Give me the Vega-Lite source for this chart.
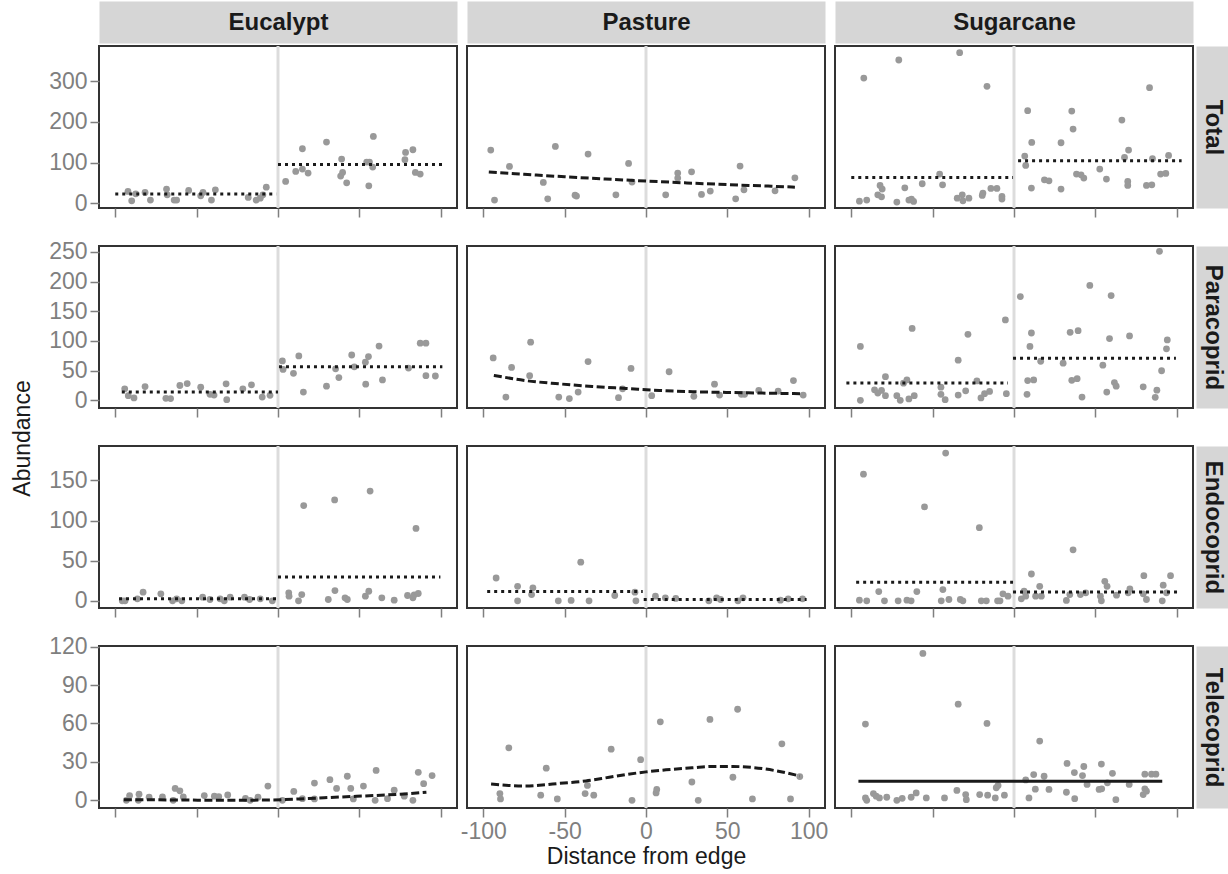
{
"$schema": "https://vega.github.io/schema/vega-lite/v6.json",
"padding": {"left": 10, "top": 9, "right": 4, "bottom": 4},
"autosize": {"type": "pad"},
"columns": 3,
"spacing": {"row": 38, "column": 10},
"bounds": "flush",
"datasets": {
"edge": [{"dist": 0}],
"pts_E_T": [{"dist":-92.2,"abund":28.8},{"dist":-89.9,"abund":5.8},{"dist":-87.4,"abund":23},{"dist":-81.7,"abund":26.3},{"dist":-78.4,"abund":7.4},{"dist":-68.5,"abund":34.5},{"dist":-68.1,"abund":20.5},{"dist":-63.8,"abund":7.4},{"dist":-62.3,"abund":7.4},{"dist":-54.9,"abund":31.2},{"dist":-47.5,"abund":18.1},{"dist":-46.1,"abund":26.3},{"dist":-40.9,"abund":7.4},{"dist":-38.5,"abund":32.9},{"dist":-18.3,"abund":14},{"dist":-13.4,"abund":7.4},{"dist":-10.9,"abund":12.3},{"dist":-9.3,"abund":20.5},{"dist":-7.2,"abund":39.4},{"dist":4.7,"abund":53.4},{"dist":10.9,"abund":78.1},{"dist":15,"abund":133.9},{"dist":15,"abund":83.8},{"dist":18.5,"abund":74},{"dist":29.8,"abund":150.4},{"dist":39.1,"abund":108.5},{"dist":38.5,"abund":66.6},{"dist":39.7,"abund":75.6},{"dist":42.2,"abund":50.1},{"dist":54.5,"abund":101.1},{"dist":56.2,"abund":101.1},{"dist":55.8,"abund":42.7},{"dist":58.2,"abund":88.7},{"dist":58.6,"abund":164.3},{"dist":78,"abund":106.8},{"dist":78.4,"abund":124.9},{"dist":82.9,"abund":131.5},{"dist":84.4,"abund":75.6},{"dist":87.4,"abund":71.5}],
"pts_P_T": [{"dist":-95.4,"abund":130.6},{"dist":-93.1,"abund":7.4},{"dist":-83.9,"abund":90.4},{"dist":-63.1,"abund":50.9},{"dist":-60.4,"abund":10.7},{"dist":-55.7,"abund":139.7},{"dist":-43.6,"abund":19.7},{"dist":-42.7,"abund":17.3},{"dist":-35.6,"abund":120.8},{"dist":-18.5,"abund":20.5},{"dist":-10.7,"abund":97.8},{"dist":-8.6,"abund":51.8},{"dist":12.1,"abund":20.5},{"dist":19.5,"abund":74},{"dist":19.5,"abund":61.6},{"dist":28,"abund":77.2},{"dist":34.1,"abund":21.4},{"dist":39.5,"abund":29.6},{"dist":55.1,"abund":10.7},{"dist":57.8,"abund":91.2},{"dist":60.2,"abund":32.9},{"dist":79.3,"abund":30.4},{"dist":91.5,"abund":62.4}],
"pts_S_T": [{"dist":-95,"abund":4.9},{"dist":-90.5,"abund":7.4},{"dist":-92.3,"abund":308.1},{"dist":-83.7,"abund":20.5},{"dist":-82.3,"abund":43.5},{"dist":-81,"abund":34.5},{"dist":-81.4,"abund":15.6},{"dist":-72,"abund":2.5},{"dist":-70.8,"abund":352.5},{"dist":-67.1,"abund":37.8},{"dist":-64.6,"abund":7.4},{"dist":-63,"abund":9.9},{"dist":-61.7,"abund":4.1},{"dist":-56.4,"abund":47.7},{"dist":-45.7,"abund":71.5},{"dist":-43.9,"abund":45.2},{"dist":-34.9,"abund":12.3},{"dist":-33.4,"abund":370.6},{"dist":-31.8,"abund":20.5},{"dist":-31.4,"abund":5.8},{"dist":-27.7,"abund":12.3},{"dist":-19.5,"abund":18.9},{"dist":-19.1,"abund":24.7},{"dist":-16.6,"abund":287.6},{"dist":-14.2,"abund":36.2},{"dist":-10.5,"abund":36.2},{"dist":-7.4,"abund":16.4},{"dist":-7.4,"abund":9.9},{"dist":6.6,"abund":115.9},{"dist":7.2,"abund":92.9},{"dist":8.4,"abund":227.6},{"dist":10.7,"abund":37},{"dist":10.9,"abund":149.5},{"dist":18.7,"abund":57.5},{"dist":21.5,"abund":55},{"dist":28.9,"abund":34.5},{"dist":28.9,"abund":148.7},{"dist":35.5,"abund":226.8},{"dist":36.3,"abund":182.4},{"dist":38.4,"abund":71.5},{"dist":41.2,"abund":69.8},{"dist":42.9,"abund":61.6},{"dist":52.7,"abund":83.8},{"dist":56.8,"abund":59.2},{"dist":66.3,"abund":204.6},{"dist":67.9,"abund":112.6},{"dist":70.4,"abund":130.6},{"dist":69.9,"abund":53.4},{"dist":69.9,"abund":43.5},{"dist":81.4,"abund":43.5},{"dist":84.7,"abund":45.2},{"dist":83.3,"abund":284.3},{"dist":85.1,"abund":109.3},{"dist":90.1,"abund":71.5},{"dist":93.3,"abund":73.1},{"dist":95,"abund":117.5}],
"pts_E_P": [{"dist":-94.2,"abund":19.4},{"dist":-92,"abund":7.7},{"dist":-88.5,"abund":3.9},{"dist":-81.7,"abund":23.2},{"dist":-68.9,"abund":3.3},{"dist":-66,"abund":2.8},{"dist":-60.3,"abund":24.9},{"dist":-55.8,"abund":28.2},{"dist":-47.5,"abund":22.1},{"dist":-41.8,"abund":10},{"dist":-39.3,"abund":8.8},{"dist":-31.9,"abund":27.7},{"dist":-31.5,"abund":1.1},{"dist":-21.6,"abund":19.4},{"dist":-16.3,"abund":26},{"dist":-9.7,"abund":5.5},{"dist":-4.9,"abund":8.3},{"dist":2.7,"abund":66.4},{"dist":3.1,"abund":52},{"dist":9.5,"abund":45.4},{"dist":12.8,"abund":74.7},{"dist":15.6,"abund":13.8},{"dist":29.8,"abund":23.8},{"dist":35.4,"abund":53.1},{"dist":37.4,"abund":38.2},{"dist":45.3,"abund":76.3},{"dist":46.9,"abund":56.4},{"dist":53.7,"abund":64.2},{"dist":55.6,"abund":73.6},{"dist":53.9,"abund":27.1},{"dist":62.1,"abund":91.3},{"dist":64.2,"abund":34.3},{"dist":80.2,"abund":54.2},{"dist":87.4,"abund":96.2},{"dist":90.9,"abund":96.2},{"dist":90.9,"abund":41.5},{"dist":96.7,"abund":40.9}],
"pts_P_P": [{"dist":-93.9,"abund":71.3},{"dist":-86.1,"abund":5.5},{"dist":-82.6,"abund":55.3},{"dist":-71.5,"abund":41.5},{"dist":-70.9,"abund":97.9},{"dist":-53.6,"abund":5.5},{"dist":-47.1,"abund":2.8},{"dist":-41.7,"abund":13.8},{"dist":-35.6,"abund":65.3},{"dist":-16.9,"abund":4.4},{"dist":-14.4,"abund":19.4},{"dist":-9.2,"abund":53.6},{"dist":3.5,"abund":7.7},{"dist":14.2,"abund":48.1},{"dist":29.4,"abund":6.6},{"dist":42.1,"abund":27.1},{"dist":45.2,"abund":8.8},{"dist":58.6,"abund":10},{"dist":60.6,"abund":10},{"dist":69.3,"abund":16.6},{"dist":81.2,"abund":15.5},{"dist":90.6,"abund":33.2},{"dist":96.6,"abund":8.8}],
"pts_S_P": [{"dist":-94.4,"abund":90.7},{"dist":-94.4,"abund":0},{"dist":-85.7,"abund":17.7},{"dist":-83.7,"abund":12.2},{"dist":-81.4,"abund":16.6},{"dist":-79,"abund":39.8},{"dist":-79,"abund":7.7},{"dist":-72,"abund":7.7},{"dist":-69.9,"abund":0},{"dist":-67.9,"abund":28.8},{"dist":-65.8,"abund":34.3},{"dist":-64.6,"abund":2.2},{"dist":-61.3,"abund":7.7},{"dist":-62.6,"abund":121.1},{"dist":-44.9,"abund":22.1},{"dist":-44.9,"abund":10},{"dist":-42.3,"abund":1.1},{"dist":-34.3,"abund":67.5},{"dist":-34.3,"abund":8.8},{"dist":-29.7,"abund":16},{"dist":-28.3,"abund":111.2},{"dist":-22.8,"abund":32.6},{"dist":-20.3,"abund":3.9},{"dist":-18.1,"abund":11.1},{"dist":-15,"abund":14.9},{"dist":-4.7,"abund":11.1},{"dist":-5.3,"abund":135.5},{"dist":3.9,"abund":174.8},{"dist":8,"abund":10},{"dist":8.4,"abund":33.2},{"dist":10.7,"abund":113.4},{"dist":9.8,"abund":90.7},{"dist":12.1,"abund":34.3},{"dist":16.4,"abund":65.8},{"dist":30.2,"abund":62.5},{"dist":34.5,"abund":114.5},{"dist":35.5,"abund":33.7},{"dist":38.8,"abund":36.5},{"dist":39.4,"abund":117.3},{"dist":41.8,"abund":5.5},{"dist":46.6,"abund":193.6},{"dist":54.6,"abund":59.2},{"dist":57,"abund":13.8},{"dist":58.7,"abund":104},{"dist":59.7,"abund":176.4},{"dist":61.7,"abund":29.9},{"dist":62.8,"abund":23.8},{"dist":71,"abund":108.4},{"dist":79.4,"abund":22.7},{"dist":86.8,"abund":5},{"dist":87.8,"abund":17.1},{"dist":90.7,"abund":49.8},{"dist":93.7,"abund":86.8},{"dist":94.2,"abund":101.8},{"dist":89.4,"abund":251.1}],
"pts_E_E": [{"dist":-95.7,"abund":0},{"dist":-94,"abund":0},{"dist":-86.4,"abund":2.5},{"dist":-82.9,"abund":10.7},{"dist":-72,"abund":8.7},{"dist":-64.8,"abund":0},{"dist":-62.3,"abund":2.5},{"dist":-59.1,"abund":0},{"dist":-46.3,"abund":4.5},{"dist":-41.8,"abund":1.6},{"dist":-35.6,"abund":2.5},{"dist":-33,"abund":0},{"dist":-29.4,"abund":4.5},{"dist":-20.6,"abund":4.5},{"dist":-17.5,"abund":1.6},{"dist":-10.9,"abund":2.5},{"dist":-3.5,"abund":0},{"dist":6.6,"abund":9.9},{"dist":6.8,"abund":5.8},{"dist":12.6,"abund":0},{"dist":14.6,"abund":7.8},{"dist":15.8,"abund":118.7},{"dist":30.9,"abund":1.6},{"dist":35,"abund":12.8},{"dist":41.2,"abund":3.7},{"dist":42.6,"abund":1.6},{"dist":34.8,"abund":125.7},{"dist":53.7,"abund":5.8},{"dist":55.8,"abund":11.9},{"dist":56.6,"abund":136.8},{"dist":63.8,"abund":3.7},{"dist":71.4,"abund":0.8},{"dist":79.6,"abund":6.6},{"dist":82.9,"abund":3.7},{"dist":83.7,"abund":7.4},{"dist":84.8,"abund":90.2},{"dist":86.2,"abund":9.1}],
"pts_P_E": [{"dist":-92.1,"abund":28.4},{"dist":-78.9,"abund":18.1},{"dist":-78.9,"abund":0},{"dist":-69.5,"abund":16.1},{"dist":-70.3,"abund":7.8},{"dist":-53.9,"abund":0},{"dist":-46,"abund":0.4},{"dist":-40.1,"abund":48.2},{"dist":-35,"abund":0},{"dist":-19.2,"abund":6.6},{"dist":-6.8,"abund":10.7},{"dist":-6.2,"abund":0},{"dist":5.8,"abund":5.8},{"dist":11.9,"abund":3.7},{"dist":18.3,"abund":2.9},{"dist":38.6,"abund":0},{"dist":43.4,"abund":3.7},{"dist":45.8,"abund":1.6},{"dist":56.5,"abund":0},{"dist":59.6,"abund":3.7},{"dist":82.6,"abund":0.8},{"dist":87.4,"abund":2.5},{"dist":96.2,"abund":2.5}],
"pts_S_E": [{"dist":-95,"abund":0.8},{"dist":-92.5,"abund":157.8},{"dist":-90.5,"abund":0},{"dist":-83.1,"abund":11.5},{"dist":-79.6,"abund":0},{"dist":-71.2,"abund":0},{"dist":-65.8,"abund":0.8},{"dist":-63.2,"abund":0},{"dist":-59.7,"abund":11.5},{"dist":-55,"abund":117},{"dist":-43.7,"abund":14},{"dist":-44.7,"abund":0},{"dist":-40,"abund":1.6},{"dist":-33,"abund":1.6},{"dist":-31.4,"abund":0},{"dist":-42,"abund":184.2},{"dist":-21.3,"abund":91.1},{"dist":-20.1,"abund":0},{"dist":-17,"abund":0},{"dist":-10.1,"abund":0},{"dist":-8.6,"abund":0},{"dist":-6.8,"abund":8.7},{"dist":-3.7,"abund":5.8},{"dist":4.5,"abund":2.5},{"dist":6.2,"abund":11.9},{"dist":7.2,"abund":5.8},{"dist":10.7,"abund":33.4},{"dist":13.3,"abund":5.8},{"dist":15.8,"abund":18.1},{"dist":16.8,"abund":5.8},{"dist":32.2,"abund":0.4},{"dist":34.3,"abund":7.8},{"dist":36.3,"abund":63.5},{"dist":40.8,"abund":7.8},{"dist":44.1,"abund":9.9},{"dist":53.1,"abund":5.8},{"dist":53.7,"abund":0},{"dist":55.8,"abund":24.3},{"dist":57.2,"abund":18.1},{"dist":63,"abund":7},{"dist":71.2,"abund":14.8},{"dist":70.2,"abund":9.9},{"dist":79.8,"abund":31.3},{"dist":79.4,"abund":8.7},{"dist":81.4,"abund":1.6},{"dist":91.1,"abund":0},{"dist":91.7,"abund":19.4},{"dist":93.7,"abund":9.9},{"dist":96.2,"abund":31.3}],
"pts_E_Te": [{"dist":-93.2,"abund":0},{"dist":-91.2,"abund":3.7},{"dist":-85.8,"abund":0},{"dist":-85.4,"abund":4.8},{"dist":-79.2,"abund":2.4},{"dist":-71,"abund":2.6},{"dist":-64.4,"abund":0},{"dist":-63.2,"abund":9.3},{"dist":-60.3,"abund":7.4},{"dist":-58.2,"abund":2.6},{"dist":-45.3,"abund":3.7},{"dist":-39.1,"abund":3.2},{"dist":-36.4,"abund":2.9},{"dist":-30.9,"abund":4.2},{"dist":-20,"abund":1.6},{"dist":-17.1,"abund":0},{"dist":-12.3,"abund":2.4},{"dist":-6.2,"abund":11.1},{"dist":2.7,"abund":0},{"dist":9.7,"abund":6.9},{"dist":15,"abund":1.3},{"dist":22.4,"abund":13.5},{"dist":22.4,"abund":1.1},{"dist":31.9,"abund":16.1},{"dist":36,"abund":9.3},{"dist":42.6,"abund":18.8},{"dist":44.7,"abund":9.3},{"dist":46.3,"abund":1.1},{"dist":52.5,"abund":11.1},{"dist":60.3,"abund":23.3},{"dist":59.7,"abund":0},{"dist":67.3,"abund":1.3},{"dist":71.4,"abund":7.9},{"dist":77.6,"abund":3.2},{"dist":82.9,"abund":0},{"dist":86.2,"abund":21.9},{"dist":89.5,"abund":13},{"dist":94.7,"abund":19.3}],
"pts_P_Te": [{"dist":-89.8,"abund":5.3},{"dist":-89.4,"abund":1.1},{"dist":-84.3,"abund":41},{"dist":-64.7,"abund":4},{"dist":-61.3,"abund":25.1},{"dist":-54.5,"abund":1.1},{"dist":-37.4,"abund":5.3},{"dist":-36,"abund":11.6},{"dist":-32.1,"abund":4},{"dist":-21.4,"abund":39.9},{"dist":-8.6,"abund":0},{"dist":-3.3,"abund":31.7},{"dist":6.2,"abund":5.8},{"dist":6.6,"abund":8.5},{"dist":8.8,"abund":61.3},{"dist":28.2,"abund":14.3},{"dist":32.1,"abund":0},{"dist":39.3,"abund":63.2},{"dist":53.4,"abund":18},{"dist":56.3,"abund":71.1},{"dist":65.4,"abund":1.1},{"dist":83.5,"abund":44.1},{"dist":88.8,"abund":1.1},{"dist":94.5,"abund":18.5}],
"pts_S_Te": [{"dist":-91.3,"abund":59.5},{"dist":-91.3,"abund":1.9},{"dist":-90.5,"abund":0},{"dist":-86.4,"abund":5.3},{"dist":-84.7,"abund":3.2},{"dist":-82.7,"abund":1.9},{"dist":-78.2,"abund":2.4},{"dist":-72,"abund":0},{"dist":-68.7,"abund":1.6},{"dist":-63.2,"abund":2.4},{"dist":-60.1,"abund":5.8},{"dist":-56,"abund":114.7},{"dist":-53.9,"abund":1.9},{"dist":-42.7,"abund":1.9},{"dist":-35.1,"abund":7.7},{"dist":-34.3,"abund":75.1},{"dist":-29.7,"abund":4.5},{"dist":-29.3,"abund":0.5},{"dist":-21.1,"abund":4.5},{"dist":-16.6,"abund":60},{"dist":-16.2,"abund":4},{"dist":-11.5,"abund":1.9},{"dist":-10.9,"abund":9.8},{"dist":-9.8,"abund":11.6},{"dist":-5.9,"abund":4},{"dist":7.2,"abund":15.9},{"dist":9.2,"abund":1.9},{"dist":12.1,"abund":20.1},{"dist":13.1,"abund":8.7},{"dist":15.8,"abund":46.3},{"dist":18.5,"abund":18.8},{"dist":21.5,"abund":8.5},{"dist":32.2,"abund":6.3},{"dist":32.6,"abund":28.8},{"dist":37.1,"abund":21.7},{"dist":37.3,"abund":1.3},{"dist":42.9,"abund":26.4},{"dist":42.1,"abund":19.3},{"dist":44.9,"abund":12.4},{"dist":52.3,"abund":8.5},{"dist":53.7,"abund":28.3},{"dist":53.9,"abund":9},{"dist":57.4,"abund":13.7},{"dist":60.5,"abund":21.1},{"dist":62.6,"abund":0.5},{"dist":70.8,"abund":12.4},{"dist":79.4,"abund":4.5},{"dist":80.4,"abund":20.4},{"dist":80.4,"abund":9},{"dist":81.4,"abund":7.1},{"dist":84.5,"abund":20.4},{"dist":87.2,"abund":20.4}],
"fit_E_T": [{"seg":"L","dist":-100,"abund":22.2},{"seg":"L","dist":-1,"abund":22.2},{"seg":"R","dist":0,"abund":95.3},{"seg":"R","dist":101,"abund":95.3}],
"fit_P_T": [{"seg":"A","dist":-96.6,"abund":76.4},{"seg":"A","dist":-75,"abund":71},{"seg":"A","dist":-50,"abund":64.9},{"seg":"A","dist":-25,"abund":59.5},{"seg":"A","dist":0,"abund":54.4},{"seg":"A","dist":25,"abund":49.8},{"seg":"A","dist":50,"abund":45.6},{"seg":"A","dist":75,"abund":42},{"seg":"A","dist":91.5,"abund":39.4}],
"fit_S_T": [{"seg":"L","dist":-100,"abund":63.3},{"seg":"L","dist":-0.6,"abund":63.3},{"seg":"R","dist":2.5,"abund":104.4},{"seg":"R","dist":103,"abund":104.4}],
"fit_E_P": [{"seg":"L","dist":-96,"abund":13.8},{"seg":"L","dist":0,"abund":13.8},{"seg":"R","dist":0.6,"abund":56.4},{"seg":"R","dist":101,"abund":56.4}],
"fit_P_P": [{"seg":"A","dist":-93.5,"abund":42},{"seg":"A","dist":-74,"abund":33.2},{"seg":"A","dist":-53.4,"abund":27.7},{"seg":"A","dist":-32.9,"abund":23.2},{"seg":"A","dist":-12.3,"abund":19.9},{"seg":"A","dist":8.2,"abund":16.6},{"seg":"A","dist":28.8,"abund":14.4},{"seg":"A","dist":49.3,"abund":13.3},{"seg":"A","dist":69.9,"abund":12.2},{"seg":"A","dist":96.6,"abund":11.1}],
"fit_S_P": [{"seg":"L","dist":-103,"abund":29.3},{"seg":"L","dist":-3.7,"abund":29.3},{"seg":"R","dist":-0.6,"abund":70.8},{"seg":"R","dist":99.5,"abund":70.8}],
"fit_E_E": [{"seg":"L","dist":-97.7,"abund":2.5},{"seg":"L","dist":1,"abund":2.5},{"seg":"R","dist":0,"abund":29.7},{"seg":"R","dist":99.8,"abund":29.7}],
"fit_P_E": [{"seg":"L","dist":-97.6,"abund":11.5},{"seg":"L","dist":-2,"abund":11.5},{"seg":"R","dist":-1.4,"abund":1.6},{"seg":"R","dist":98.7,"abund":1.6}],
"fit_S_E": [{"seg":"L","dist":-97,"abund":23.1},{"seg":"L","dist":-0.6,"abund":23.1},{"seg":"R","dist":-0.6,"abund":11.1},{"seg":"R","dist":100.3,"abund":11.1}],
"fit_E_Te": [{"seg":"A","dist":-94.7,"abund":0.5},{"seg":"A","dist":-64.8,"abund":0.3},{"seg":"A","dist":-34,"abund":0},{"seg":"A","dist":-3.1,"abund":0.3},{"seg":"A","dist":17.5,"abund":1.3},{"seg":"A","dist":38.1,"abund":2.6},{"seg":"A","dist":58.6,"abund":3.7},{"seg":"A","dist":75.1,"abund":4.8},{"seg":"A","dist":91.2,"abund":6.3}],
"fit_P_Te": [{"seg":"A","dist":-95.2,"abund":12.7},{"seg":"A","dist":-84.3,"abund":11.6},{"seg":"A","dist":-74,"abund":11.1},{"seg":"A","dist":-63.7,"abund":11.9},{"seg":"A","dist":-53.4,"abund":13.2},{"seg":"A","dist":-37,"abund":15.1},{"seg":"A","dist":-22.6,"abund":18},{"seg":"A","dist":-12.3,"abund":20.1},{"seg":"A","dist":0,"abund":22.2},{"seg":"A","dist":12.3,"abund":23.8},{"seg":"A","dist":28.8,"abund":25.4},{"seg":"A","dist":41.1,"abund":26.4},{"seg":"A","dist":53.4,"abund":26.4},{"seg":"A","dist":65.8,"abund":25.6},{"seg":"A","dist":80.2,"abund":23},{"seg":"A","dist":94.5,"abund":19}],
"fit_S_Te": [{"seg":"A","dist":-95.6,"abund":14.8},{"seg":"A","dist":91.1,"abund":14.8}]
},
"concat": [
{"width":358,"height":162,"resolve":{"axis":{"x":"independent","y":"independent"}},"layer":[
 {"data":{"name":"edge"},"mark":{"type":"rule","color":"#dcdcdc","strokeWidth":3},"encoding":{"x":{"field":"dist","type":"quantitative","scale":{"domain":[-110,110],"nice":false,"zero":false},"axis":{"orient":"top","title":"Eucalypt","labels":false,"ticks":false,"domain":true,"domainColor":"#d6d6d6","domainWidth":42,"offset":24,"titleFontWeight":"bold","titleFontSize":24,"titleBaseline":"middle","titleY":0}}}},
 {"data":{"name":"pts_E_T"},"mark":{"type":"circle","size":46,"color":"#999999","opacity":1},"encoding":{"x":{"field":"dist","type":"quantitative","scale":{"domain":[-110,110],"nice":false,"zero":false},"axis":{"orient":"bottom","values":[-100,-50,0,50,100],"labels":false,"title":null}},"y":{"field":"abund","type":"quantitative","scale":{"domain":[-12,387],"nice":false,"zero":false},"axis":{"values":[0,100,200,300],"title":null}}}},
 {"data":{"name":"fit_E_T"},"mark":{"type":"line","color":"#1a1a1a","strokeWidth":3,"strokeDash":[3,4]},"encoding":{"x":{"field":"dist","type":"quantitative","scale":{"domain":[-110,110],"nice":false,"zero":false},"axis":null},"y":{"field":"abund","type":"quantitative","scale":{"domain":[-12,387],"nice":false,"zero":false},"axis":null},"detail":{"field":"seg"}}}
]},
{"width":358,"height":162,"resolve":{"axis":{"x":"independent","y":"independent"}},"layer":[
 {"data":{"name":"edge"},"mark":{"type":"rule","color":"#dcdcdc","strokeWidth":3},"encoding":{"x":{"field":"dist","type":"quantitative","scale":{"domain":[-110,110],"nice":false,"zero":false},"axis":{"orient":"top","title":"Pasture","labels":false,"ticks":false,"domain":true,"domainColor":"#d6d6d6","domainWidth":42,"offset":24,"titleFontWeight":"bold","titleFontSize":24,"titleBaseline":"middle","titleY":0}}}},
 {"data":{"name":"pts_P_T"},"mark":{"type":"circle","size":46,"color":"#999999","opacity":1},"encoding":{"x":{"field":"dist","type":"quantitative","scale":{"domain":[-110,110],"nice":false,"zero":false},"axis":{"orient":"bottom","values":[-100,-50,0,50,100],"labels":false,"title":null}},"y":{"field":"abund","type":"quantitative","scale":{"domain":[-12,387],"nice":false,"zero":false},"axis":null}}},
 {"data":{"name":"fit_P_T"},"mark":{"type":"line","color":"#1a1a1a","strokeWidth":3,"strokeDash":[8,3.5],"interpolate":"monotone"},"encoding":{"x":{"field":"dist","type":"quantitative","scale":{"domain":[-110,110],"nice":false,"zero":false},"axis":null},"y":{"field":"abund","type":"quantitative","scale":{"domain":[-12,387],"nice":false,"zero":false},"axis":null},"detail":{"field":"seg"}}}
]},
{"width":358,"height":162,"resolve":{"axis":{"x":"independent","y":"independent"}},"layer":[
 {"data":{"name":"edge"},"mark":{"type":"rule","color":"#dcdcdc","strokeWidth":3},"encoding":{"x":{"field":"dist","type":"quantitative","scale":{"domain":[-110,110],"nice":false,"zero":false},"axis":{"orient":"top","title":"Sugarcane","labels":false,"ticks":false,"domain":true,"domainColor":"#d6d6d6","domainWidth":42,"offset":24,"titleFontWeight":"bold","titleFontSize":24,"titleBaseline":"middle","titleY":0}}}},
 {"data":{"name":"pts_S_T"},"mark":{"type":"circle","size":46,"color":"#999999","opacity":1},"encoding":{"x":{"field":"dist","type":"quantitative","scale":{"domain":[-110,110],"nice":false,"zero":false},"axis":{"orient":"bottom","values":[-100,-50,0,50,100],"labels":false,"title":null}},"y":{"field":"abund","type":"quantitative","scale":{"domain":[-12,387],"nice":false,"zero":false},"axis":null}}},
 {"data":{"name":"fit_S_T"},"mark":{"type":"line","color":"#1a1a1a","strokeWidth":3,"strokeDash":[3,4]},"encoding":{"x":{"field":"dist","type":"quantitative","scale":{"domain":[-110,110],"nice":false,"zero":false},"axis":null},"y":{"field":"abund","type":"quantitative","scale":{"domain":[-12,387],"nice":false,"zero":false},"axis":{"orient":"right","title":"Total","labels":false,"ticks":false,"domain":true,"domainColor":"#d6d6d6","domainWidth":32,"offset":19,"titleFontWeight":"bold","titleFontSize":24,"titleAngle":90,"titleBaseline":"middle","titleX":0}},"detail":{"field":"seg"}}}
]},
{"width":358,"height":162,"resolve":{"axis":{"x":"independent","y":"independent"}},"layer":[
 {"data":{"name":"edge"},"mark":{"type":"rule","color":"#dcdcdc","strokeWidth":3},"encoding":{"x":{"field":"dist","type":"quantitative","scale":{"domain":[-110,110],"nice":false,"zero":false},"axis":null}}},
 {"data":{"name":"pts_E_P"},"mark":{"type":"circle","size":46,"color":"#999999","opacity":1},"encoding":{"x":{"field":"dist","type":"quantitative","scale":{"domain":[-110,110],"nice":false,"zero":false},"axis":{"orient":"bottom","values":[-100,-50,0,50,100],"labels":false,"title":null}},"y":{"field":"abund","type":"quantitative","scale":{"domain":[-13,260],"nice":false,"zero":false},"axis":{"values":[0,50,100,150,200,250],"title":"Abundance","titleX":-77,"titleY":192,"titleAngle":270,"titleBaseline":"middle","titleAlign":"center"}}}},
 {"data":{"name":"fit_E_P"},"mark":{"type":"line","color":"#1a1a1a","strokeWidth":3,"strokeDash":[3,4]},"encoding":{"x":{"field":"dist","type":"quantitative","scale":{"domain":[-110,110],"nice":false,"zero":false},"axis":null},"y":{"field":"abund","type":"quantitative","scale":{"domain":[-13,260],"nice":false,"zero":false},"axis":null},"detail":{"field":"seg"}}}
]},
{"width":358,"height":162,"resolve":{"axis":{"x":"independent","y":"independent"}},"layer":[
 {"data":{"name":"edge"},"mark":{"type":"rule","color":"#dcdcdc","strokeWidth":3},"encoding":{"x":{"field":"dist","type":"quantitative","scale":{"domain":[-110,110],"nice":false,"zero":false},"axis":null}}},
 {"data":{"name":"pts_P_P"},"mark":{"type":"circle","size":46,"color":"#999999","opacity":1},"encoding":{"x":{"field":"dist","type":"quantitative","scale":{"domain":[-110,110],"nice":false,"zero":false},"axis":{"orient":"bottom","values":[-100,-50,0,50,100],"labels":false,"title":null}},"y":{"field":"abund","type":"quantitative","scale":{"domain":[-13,260],"nice":false,"zero":false},"axis":null}}},
 {"data":{"name":"fit_P_P"},"mark":{"type":"line","color":"#1a1a1a","strokeWidth":3,"strokeDash":[8,3.5],"interpolate":"monotone"},"encoding":{"x":{"field":"dist","type":"quantitative","scale":{"domain":[-110,110],"nice":false,"zero":false},"axis":null},"y":{"field":"abund","type":"quantitative","scale":{"domain":[-13,260],"nice":false,"zero":false},"axis":null},"detail":{"field":"seg"}}}
]},
{"width":358,"height":162,"resolve":{"axis":{"x":"independent","y":"independent"}},"layer":[
 {"data":{"name":"edge"},"mark":{"type":"rule","color":"#dcdcdc","strokeWidth":3},"encoding":{"x":{"field":"dist","type":"quantitative","scale":{"domain":[-110,110],"nice":false,"zero":false},"axis":null}}},
 {"data":{"name":"pts_S_P"},"mark":{"type":"circle","size":46,"color":"#999999","opacity":1},"encoding":{"x":{"field":"dist","type":"quantitative","scale":{"domain":[-110,110],"nice":false,"zero":false},"axis":{"orient":"bottom","values":[-100,-50,0,50,100],"labels":false,"title":null}},"y":{"field":"abund","type":"quantitative","scale":{"domain":[-13,260],"nice":false,"zero":false},"axis":null}}},
 {"data":{"name":"fit_S_P"},"mark":{"type":"line","color":"#1a1a1a","strokeWidth":3,"strokeDash":[3,4]},"encoding":{"x":{"field":"dist","type":"quantitative","scale":{"domain":[-110,110],"nice":false,"zero":false},"axis":null},"y":{"field":"abund","type":"quantitative","scale":{"domain":[-13,260],"nice":false,"zero":false},"axis":{"orient":"right","title":"Paracoprid","labels":false,"ticks":false,"domain":true,"domainColor":"#d6d6d6","domainWidth":32,"offset":19,"titleFontWeight":"bold","titleFontSize":24,"titleAngle":90,"titleBaseline":"middle","titleX":0}},"detail":{"field":"seg"}}}
]},
{"width":358,"height":162,"resolve":{"axis":{"x":"independent","y":"independent"}},"layer":[
 {"data":{"name":"edge"},"mark":{"type":"rule","color":"#dcdcdc","strokeWidth":3},"encoding":{"x":{"field":"dist","type":"quantitative","scale":{"domain":[-110,110],"nice":false,"zero":false},"axis":null}}},
 {"data":{"name":"pts_E_E"},"mark":{"type":"circle","size":46,"color":"#999999","opacity":1},"encoding":{"x":{"field":"dist","type":"quantitative","scale":{"domain":[-110,110],"nice":false,"zero":false},"axis":{"orient":"bottom","values":[-100,-50,0,50,100],"labels":false,"title":null}},"y":{"field":"abund","type":"quantitative","scale":{"domain":[-9,193],"nice":false,"zero":false},"axis":{"values":[0,50,100,150],"title":null}}}},
 {"data":{"name":"fit_E_E"},"mark":{"type":"line","color":"#1a1a1a","strokeWidth":3,"strokeDash":[3,4]},"encoding":{"x":{"field":"dist","type":"quantitative","scale":{"domain":[-110,110],"nice":false,"zero":false},"axis":null},"y":{"field":"abund","type":"quantitative","scale":{"domain":[-9,193],"nice":false,"zero":false},"axis":null},"detail":{"field":"seg"}}}
]},
{"width":358,"height":162,"resolve":{"axis":{"x":"independent","y":"independent"}},"layer":[
 {"data":{"name":"edge"},"mark":{"type":"rule","color":"#dcdcdc","strokeWidth":3},"encoding":{"x":{"field":"dist","type":"quantitative","scale":{"domain":[-110,110],"nice":false,"zero":false},"axis":null}}},
 {"data":{"name":"pts_P_E"},"mark":{"type":"circle","size":46,"color":"#999999","opacity":1},"encoding":{"x":{"field":"dist","type":"quantitative","scale":{"domain":[-110,110],"nice":false,"zero":false},"axis":{"orient":"bottom","values":[-100,-50,0,50,100],"labels":false,"title":null}},"y":{"field":"abund","type":"quantitative","scale":{"domain":[-9,193],"nice":false,"zero":false},"axis":null}}},
 {"data":{"name":"fit_P_E"},"mark":{"type":"line","color":"#1a1a1a","strokeWidth":3,"strokeDash":[3,4]},"encoding":{"x":{"field":"dist","type":"quantitative","scale":{"domain":[-110,110],"nice":false,"zero":false},"axis":null},"y":{"field":"abund","type":"quantitative","scale":{"domain":[-9,193],"nice":false,"zero":false},"axis":null},"detail":{"field":"seg"}}}
]},
{"width":358,"height":162,"resolve":{"axis":{"x":"independent","y":"independent"}},"layer":[
 {"data":{"name":"edge"},"mark":{"type":"rule","color":"#dcdcdc","strokeWidth":3},"encoding":{"x":{"field":"dist","type":"quantitative","scale":{"domain":[-110,110],"nice":false,"zero":false},"axis":null}}},
 {"data":{"name":"pts_S_E"},"mark":{"type":"circle","size":46,"color":"#999999","opacity":1},"encoding":{"x":{"field":"dist","type":"quantitative","scale":{"domain":[-110,110],"nice":false,"zero":false},"axis":{"orient":"bottom","values":[-100,-50,0,50,100],"labels":false,"title":null}},"y":{"field":"abund","type":"quantitative","scale":{"domain":[-9,193],"nice":false,"zero":false},"axis":null}}},
 {"data":{"name":"fit_S_E"},"mark":{"type":"line","color":"#1a1a1a","strokeWidth":3,"strokeDash":[3,4]},"encoding":{"x":{"field":"dist","type":"quantitative","scale":{"domain":[-110,110],"nice":false,"zero":false},"axis":null},"y":{"field":"abund","type":"quantitative","scale":{"domain":[-9,193],"nice":false,"zero":false},"axis":{"orient":"right","title":"Endocoprid","labels":false,"ticks":false,"domain":true,"domainColor":"#d6d6d6","domainWidth":32,"offset":19,"titleFontWeight":"bold","titleFontSize":24,"titleAngle":90,"titleBaseline":"middle","titleX":0}},"detail":{"field":"seg"}}}
]},
{"width":358,"height":162,"resolve":{"axis":{"x":"independent","y":"independent"}},"layer":[
 {"data":{"name":"edge"},"mark":{"type":"rule","color":"#dcdcdc","strokeWidth":3},"encoding":{"x":{"field":"dist","type":"quantitative","scale":{"domain":[-110,110],"nice":false,"zero":false},"axis":null}}},
 {"data":{"name":"pts_E_Te"},"mark":{"type":"circle","size":46,"color":"#999999","opacity":1},"encoding":{"x":{"field":"dist","type":"quantitative","scale":{"domain":[-110,110],"nice":false,"zero":false},"axis":{"orient":"bottom","values":[-100,-50,0,50,100],"labels":false,"title":null}},"y":{"field":"abund","type":"quantitative","scale":{"domain":[-6,120.5],"nice":false,"zero":false},"axis":{"values":[0,30,60,90,120],"title":null}}}},
 {"data":{"name":"fit_E_Te"},"mark":{"type":"line","color":"#1a1a1a","strokeWidth":3,"strokeDash":[8,3.5],"interpolate":"monotone"},"encoding":{"x":{"field":"dist","type":"quantitative","scale":{"domain":[-110,110],"nice":false,"zero":false},"axis":null},"y":{"field":"abund","type":"quantitative","scale":{"domain":[-6,120.5],"nice":false,"zero":false},"axis":null},"detail":{"field":"seg"}}}
]},
{"width":358,"height":162,"resolve":{"axis":{"x":"independent","y":"independent"}},"layer":[
 {"data":{"name":"edge"},"mark":{"type":"rule","color":"#dcdcdc","strokeWidth":3},"encoding":{"x":{"field":"dist","type":"quantitative","scale":{"domain":[-110,110],"nice":false,"zero":false},"axis":null}}},
 {"data":{"name":"pts_P_Te"},"mark":{"type":"circle","size":46,"color":"#999999","opacity":1},"encoding":{"x":{"field":"dist","type":"quantitative","scale":{"domain":[-110,110],"nice":false,"zero":false},"axis":{"orient":"bottom","values":[-100,-50,0,50,100],"labelExpr":"datum.value","title":"Distance from edge","labelPadding":3,"titlePadding":2}},"y":{"field":"abund","type":"quantitative","scale":{"domain":[-6,120.5],"nice":false,"zero":false},"axis":null}}},
 {"data":{"name":"fit_P_Te"},"mark":{"type":"line","color":"#1a1a1a","strokeWidth":3,"strokeDash":[8,3.5],"interpolate":"monotone"},"encoding":{"x":{"field":"dist","type":"quantitative","scale":{"domain":[-110,110],"nice":false,"zero":false},"axis":null},"y":{"field":"abund","type":"quantitative","scale":{"domain":[-6,120.5],"nice":false,"zero":false},"axis":null},"detail":{"field":"seg"}}}
]},
{"width":358,"height":162,"resolve":{"axis":{"x":"independent","y":"independent"}},"layer":[
 {"data":{"name":"edge"},"mark":{"type":"rule","color":"#dcdcdc","strokeWidth":3},"encoding":{"x":{"field":"dist","type":"quantitative","scale":{"domain":[-110,110],"nice":false,"zero":false},"axis":null}}},
 {"data":{"name":"pts_S_Te"},"mark":{"type":"circle","size":46,"color":"#999999","opacity":1},"encoding":{"x":{"field":"dist","type":"quantitative","scale":{"domain":[-110,110],"nice":false,"zero":false},"axis":{"orient":"bottom","values":[-100,-50,0,50,100],"labels":false,"title":null}},"y":{"field":"abund","type":"quantitative","scale":{"domain":[-6,120.5],"nice":false,"zero":false},"axis":null}}},
 {"data":{"name":"fit_S_Te"},"mark":{"type":"line","color":"#1a1a1a","strokeWidth":3},"encoding":{"x":{"field":"dist","type":"quantitative","scale":{"domain":[-110,110],"nice":false,"zero":false},"axis":null},"y":{"field":"abund","type":"quantitative","scale":{"domain":[-6,120.5],"nice":false,"zero":false},"axis":{"orient":"right","title":"Telecoprid","labels":false,"ticks":false,"domain":true,"domainColor":"#d6d6d6","domainWidth":32,"offset":19,"titleFontWeight":"bold","titleFontSize":24,"titleAngle":90,"titleBaseline":"middle","titleX":0}},"detail":{"field":"seg"}}}
]}
],
"config": {
 "view": {"stroke": "#333333", "strokeWidth": 2},
 "axis": {"domain": false, "grid": false, "tickColor": "#7f7f7f", "tickSize": 9, "tickWidth": 1.5, "labelColor": "#7f7f7f", "labelFontSize": 23, "labelFont": "Liberation Sans", "labelPadding": 3, "titleFont": "Liberation Sans", "titleFontSize": 23, "titleColor": "#1a1a1a", "titleFontWeight": "normal"}
}
}
